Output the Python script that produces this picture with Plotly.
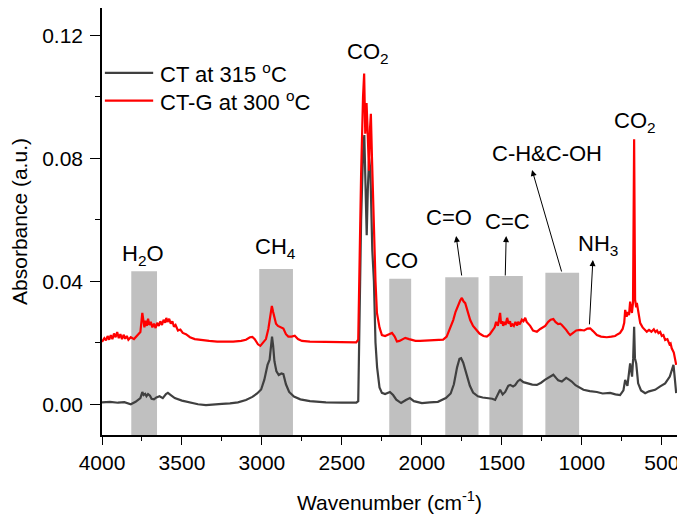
import plotly.graph_objects as go

# ---------------- data ----------------
ct_wn = [4000, 3950, 3900, 3860, 3820, 3790, 3760, 3748, 3740, 3730, 3722, 3712, 3700, 3690, 3675, 3660,
         3640, 3620, 3600, 3588, 3570, 3545, 3500, 3450, 3400, 3350, 3300, 3250, 3200, 3150, 3100, 3060,
         3030, 3005, 2985, 2965, 2952, 2944, 2937, 2930, 2922, 2910, 2895, 2878, 2866, 2850, 2830, 2800,
         2760, 2700, 2600, 2500, 2410, 2398, 2390, 2380, 2368, 2360, 2352, 2345, 2338, 2330, 2322, 2310,
         2300, 2290, 2280, 2265, 2250, 2230, 2200, 2180, 2160, 2130, 2100, 2075, 2050, 2000, 1950, 1900,
         1850, 1820, 1800, 1780, 1765, 1755, 1742, 1730, 1719, 1700, 1680, 1650, 1620, 1590, 1560, 1542,
         1525, 1511, 1495, 1479, 1460, 1448, 1430, 1417, 1400, 1386, 1365, 1340, 1310, 1281, 1255, 1229,
         1200, 1178, 1160, 1148, 1125, 1098, 1080, 1063, 1040, 1023, 990, 950, 906, 870, 823, 790,
         761, 740, 729, 715, 698, 690, 686, 679, 673, 668, 660, 652, 648, 630, 604, 580,
         542, 510, 479, 450, 427, 418, 410]
ct_abs = [0.0006, 0.0008, 0.0005, 0.0007, 0.0000, 0.0008, 0.0020, 0.0040, 0.0030, 0.0034, 0.0026, 0.0033, 0.0028, 0.0018, 0.0016, 0.0022,
          0.0026, 0.0020, 0.0033, 0.0037, 0.0030, 0.0020, 0.0012, 0.0006, 0.0000, -0.0003, -0.0002, 0.0001, 0.0003, 0.0006, 0.0014, 0.0024,
          0.0035, 0.0048, 0.0080, 0.0128, 0.0145, 0.0185, 0.0220, 0.0190, 0.0140, 0.0108, 0.0095, 0.0100, 0.0098, 0.0065, 0.0040, 0.0025,
          0.0016, 0.0010, 0.0006, 0.0005, 0.0005, 0.0010, 0.0300, 0.0600, 0.0820, 0.0876, 0.0700, 0.0550, 0.0700, 0.0800, 0.0760, 0.0500,
          0.0400, 0.0200, 0.0120, 0.0055, 0.0037, 0.0033, 0.0040, 0.0030, 0.0015, 0.0004, 0.0014, 0.0020, 0.0010, 0.0004, 0.0006, 0.0008,
          0.0020, 0.0035, 0.0065, 0.0120, 0.0148, 0.0150, 0.0136, 0.0115, 0.0100, 0.0060, 0.0038, 0.0026, 0.0022, 0.0020, 0.0018, 0.0014,
          0.0030, 0.0047, 0.0032, 0.0040, 0.0060, 0.0063, 0.0058, 0.0062, 0.0075, 0.0080, 0.0072, 0.0068, 0.0064, 0.0063, 0.0070, 0.0080,
          0.0090, 0.0096, 0.0085, 0.0078, 0.0074, 0.0086, 0.0080, 0.0074, 0.0062, 0.0056, 0.0047, 0.0043, 0.0040, 0.0035, 0.0037, 0.0032,
          0.0030, 0.0045, 0.0079, 0.0060, 0.0133, 0.0105, 0.0090, 0.0150, 0.0252, 0.0150, 0.0133, 0.0090, 0.0068, 0.0045, 0.0036, 0.0042,
          0.0047, 0.0058, 0.0068, 0.0090, 0.0128, 0.0080, 0.0036]

ctg_wn = [4000, 3985, 3975, 3965, 3955, 3945, 3935, 3925, 3915, 3905, 3895, 3885, 3875, 3865, 3855, 3845,
          3835, 3820, 3800, 3780, 3760, 3748, 3742, 3735, 3728, 3720, 3712, 3704, 3695, 3685, 3675, 3665,
          3655, 3645, 3635, 3625, 3615, 3605, 3598, 3590, 3580, 3570, 3560, 3550, 3540, 3525, 3510, 3495,
          3475, 3450, 3420, 3380, 3330, 3280, 3230, 3180, 3130, 3100, 3075, 3060, 3045, 3025, 3010, 2995,
          2975, 2960, 2948, 2938, 2930, 2922, 2912, 2900, 2880, 2866, 2850, 2835, 2815, 2795, 2775, 2750,
          2700, 2600, 2500, 2410, 2398, 2392, 2380, 2368, 2361, 2354, 2346, 2340, 2331, 2324, 2319, 2312,
          2302, 2290, 2281, 2265, 2250, 2230, 2205, 2187, 2170, 2156, 2140, 2104, 2080, 2040, 2011, 1950,
          1900, 1867, 1845, 1836, 1820, 1804, 1790, 1773, 1760, 1750, 1740, 1729, 1715, 1698, 1680, 1661,
          1640, 1615, 1594, 1575, 1555, 1545, 1536, 1525, 1518, 1511, 1505, 1498, 1492, 1485, 1477, 1467,
          1458, 1449, 1442, 1436, 1425, 1415, 1405, 1398, 1388, 1375, 1365, 1354, 1345, 1335, 1323, 1305,
          1281, 1260, 1240, 1229, 1210, 1195, 1178, 1165, 1148, 1135, 1125, 1110, 1098, 1085, 1073, 1055,
          1035, 1011, 985, 965, 948, 930, 906, 880, 844, 815, 792, 775, 761, 745, 735, 729,
          720, 712, 705, 698, 692, 687, 680, 673, 667, 660, 656, 648, 640, 635, 620, 605,
          594, 580, 565, 550, 540, 530, 521, 510, 500, 490, 479, 465, 452, 445, 438, 425,
          418, 410]
ctg_abs = [0.0203, 0.0215, 0.0208, 0.0222, 0.0210, 0.0225, 0.0212, 0.0230, 0.0218, 0.0235, 0.0215, 0.0228, 0.0212, 0.0226, 0.0213, 0.0222,
           0.0210, 0.0218, 0.0212, 0.0225, 0.0235, 0.0297, 0.0280, 0.0250, 0.0272, 0.0255, 0.0278, 0.0258, 0.0268, 0.0250, 0.0262, 0.0248,
           0.0265, 0.0255, 0.0270, 0.0258, 0.0275, 0.0265, 0.0281, 0.0268, 0.0278, 0.0262, 0.0270, 0.0252, 0.0258, 0.0240, 0.0243, 0.0232,
           0.0228, 0.0218, 0.0212, 0.0209, 0.0206, 0.0204, 0.0203, 0.0204, 0.0206, 0.0210, 0.0218, 0.0219, 0.0212, 0.0195, 0.0190, 0.0198,
           0.0212, 0.0245, 0.0290, 0.0320, 0.0300, 0.0280, 0.0262, 0.0255, 0.0250, 0.0246, 0.0228, 0.0220, 0.0220, 0.0223, 0.0212, 0.0206,
           0.0204, 0.0203, 0.0202, 0.0201, 0.0210, 0.0400, 0.0750, 0.1000, 0.1076, 0.0880, 0.0980, 0.0900, 0.0760, 0.0900, 0.0945, 0.0800,
           0.0580, 0.0400, 0.0297, 0.0250, 0.0225, 0.0222, 0.0228, 0.0232, 0.0220, 0.0204, 0.0206, 0.0216, 0.0212, 0.0206, 0.0206, 0.0208,
           0.0209, 0.0210, 0.0220, 0.0232, 0.0250, 0.0274, 0.0300, 0.0323, 0.0338, 0.0346, 0.0335, 0.0329, 0.0300, 0.0274, 0.0255, 0.0242,
           0.0230, 0.0222, 0.0220, 0.0228, 0.0242, 0.0250, 0.0268, 0.0255, 0.0275, 0.0297, 0.0262, 0.0270, 0.0255, 0.0268, 0.0258, 0.0281,
           0.0262, 0.0270, 0.0252, 0.0262, 0.0255, 0.0268, 0.0256, 0.0268, 0.0260, 0.0275, 0.0270, 0.0281, 0.0268, 0.0262, 0.0255, 0.0240,
           0.0236, 0.0245, 0.0252, 0.0255, 0.0268, 0.0275, 0.0277, 0.0268, 0.0261, 0.0262, 0.0258, 0.0250, 0.0242, 0.0232, 0.0225, 0.0232,
           0.0240, 0.0242, 0.0240, 0.0246, 0.0247, 0.0238, 0.0225, 0.0220, 0.0218, 0.0220, 0.0222, 0.0228, 0.0232, 0.0245, 0.0265, 0.0307,
           0.0285, 0.0300, 0.0290, 0.0334, 0.0310, 0.0297, 0.0330, 0.0862, 0.0340, 0.0315, 0.0330, 0.0300, 0.0275, 0.0264, 0.0250, 0.0240,
           0.0236, 0.0242, 0.0236, 0.0244, 0.0235, 0.0240, 0.0231, 0.0235, 0.0222, 0.0225, 0.0209, 0.0212, 0.0195, 0.0198, 0.0182, 0.0168,
           0.0150, 0.0128]

series_names = ["CT at 315 <sup>o</sup>C", "CT-G at 300 <sup>o</sup>C"]
series_colors = ["#404040", "#ff0000"]

# shaded bands (wavenumber limits and heights)
band_hi = [3817, 3017, 2204, 1854, 1578, 1228]
band_lo = [3656, 2806, 2067, 1646, 1369, 1017]
band_top = [0.0433, 0.0440, 0.0408, 0.0413, 0.0417, 0.0428]

# text labels
label_text = ["H<sub>2</sub>O", "CH<sub>4</sub>", "CO<sub>2</sub>", "CO", "C=O", "C=C",
              "C-H&C-OH", "NH<sub>3</sub>", "CO<sub>2</sub>"]
label_x = [3742, 2914, 2334, 2126, 1829, 1462, 1215, 898, 667]
label_y = [0.0486, 0.0507, 0.1143, 0.0469, 0.0606, 0.0594, 0.0816, 0.0518, 0.0918]

# arrows (tail -> head)
arrow_tail_x = [1750, 1479, 1124, 953]
arrow_tail_y = [0.0414, 0.0414, 0.0427, 0.0255]
arrow_head_x = [1786, 1473, 1311, 931]
arrow_head_y = [0.0547, 0.0547, 0.0762, 0.0469]

x_ticks = [4000, 3500, 3000, 2500, 2000, 1500, 1000, 500]
y_ticks = [0.00, 0.04, 0.08, 0.12]

FONT = "Liberation Sans, Arial, sans-serif"

fig = go.Figure()
fig.add_trace(go.Scatter(x=ct_wn, y=ct_abs, mode="lines", name=series_names[0],
                         line=dict(color=series_colors[0], width=2.2), showlegend=False))
fig.add_trace(go.Scatter(x=ctg_wn, y=ctg_abs, mode="lines", name=series_names[1],
                         line=dict(color=series_colors[1], width=2.2), showlegend=False))

for lo, hi, top in zip(band_lo, band_hi, band_top):
    fig.add_shape(type="rect", xref="x", yref="y", x0=hi, x1=lo, y0=-0.01, y1=top,
                  fillcolor="#c0c0c0", line=dict(width=0), layer="below")

for t, x, y in zip(label_text, label_x, label_y):
    fig.add_annotation(x=x, y=y, xref="x", yref="y", text=t, showarrow=False,
                       xanchor="center", yanchor="middle",
                       font=dict(family=FONT, size=22, color="black"))

for tx, ty, hx, hy in zip(arrow_tail_x, arrow_tail_y, arrow_head_x, arrow_head_y):
    fig.add_annotation(x=hx, y=hy, ax=tx, ay=ty, xref="x", yref="y", axref="x", ayref="y",
                       text="", showarrow=True, arrowhead=2, arrowsize=1.2, arrowwidth=1,
                       arrowcolor="black")

# legend (drawn in paper coordinates, top-left of the plot)
leg_y = [0.848, 0.783]
for name, col, ly in zip(series_names, series_colors, leg_y):
    fig.add_shape(type="line", xref="paper", yref="paper", x0=0.005, x1=0.089, y0=ly, y1=ly,
                  line=dict(color=col, width=2.2))
    fig.add_annotation(x=0.097, y=ly, xref="paper", yref="paper", text=name, showarrow=False,
                       xanchor="left", yanchor="middle",
                       font=dict(family=FONT, size=22, color="black"))

x_range = [4000, 405]
y_range = [-0.01, 0.1289]

# the page body adds an 8px offset, so the figure is sized to fit the window
fig.update_layout(
    width=677, height=509,
    margin=dict(l=94, r=8, t=0, b=82),
    paper_bgcolor="white", plot_bgcolor="white",
    font=dict(family=FONT, size=21, color="black"),
    showlegend=False,
    xaxis=dict(range=x_range, tickvals=x_ticks, ticktext=[str(v) for v in x_ticks],
               ticks="outside", ticklen=8, tickwidth=1.2, tickcolor="black",
               minor=dict(dtick=250, tick0=0, ticks="outside", ticklen=4, tickcolor="black", tickwidth=1.2),
               showline=True, linecolor="black", linewidth=1.5, showgrid=False, zeroline=False,
               tickfont=dict(family=FONT, size=21), automargin=False,
               title=dict(text="Wavenumber (cm<sup>-1</sup>)", font=dict(family=FONT, size=21), standoff=22)),
    yaxis=dict(range=y_range, tickvals=y_ticks, ticktext=["%.2f" % v for v in y_ticks],
               ticks="outside", ticklen=10, tickwidth=1.2, tickcolor="black", ticklabelstandoff=3,
               minor=dict(dtick=0.02, tick0=0, ticks="outside", ticklen=5, tickcolor="black", tickwidth=1.2),
               showline=True, linecolor="black", linewidth=1.5, showgrid=False, zeroline=False,
               tickfont=dict(family=FONT, size=21), automargin=False,
               title=dict(text="Absorbance (a.u.)", font=dict(family=FONT, size=21), standoff=16)),
    xaxis2=dict(range=x_range, overlaying="x", side="top", anchor="y", dtick=250, tick0=0,
                ticks="inside", ticklen=3, tickcolor="black", showticklabels=False, automargin=False,
                showline=True, linecolor="black", linewidth=1.5, showgrid=False, zeroline=False),
    yaxis2=dict(range=y_range, overlaying="y", side="right", anchor="x", dtick=0.02, tick0=0,
                ticks="inside", ticklen=3, tickcolor="black", showticklabels=False, automargin=False,
                showline=True, linecolor="black", linewidth=1.5, showgrid=False, zeroline=False),
)

fig.write_html("out.html")
